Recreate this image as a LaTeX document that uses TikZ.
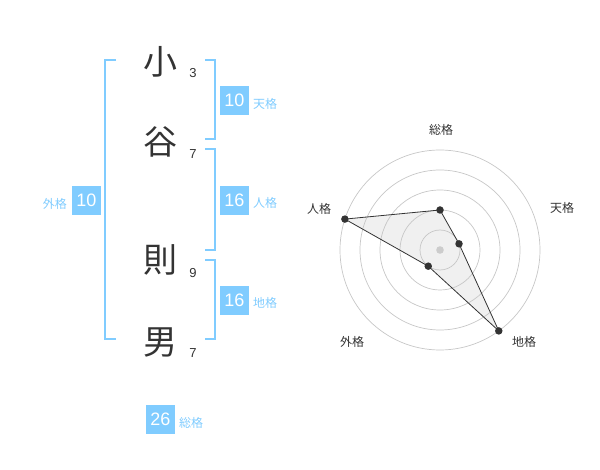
\documentclass[tikz,border=0pt]{standalone}
\usepackage{fontspec}
\setmainfont{Liberation Sans}
\newfontfamily\jpfont{Noto Sans CJK JP}
\definecolor{kakublue}{RGB}{128,204,255}
\definecolor{inkgray}{RGB}{51,51,51}

\begin{document}
\begin{tikzpicture}[x=1pt,y=-1pt,
    kanji/.style={font=\jpfont\fontsize{34}{34}\selectfont, text=inkgray, inner sep=0pt},
    strokes/.style={font=\fontsize{13}{13}\selectfont, text=inkgray, inner sep=0pt},
    kakubox/.style={fill=kakublue, text=white, minimum size=29pt, inner sep=0pt, font=\fontsize{18}{18}\selectfont},
    kakuname/.style={font=\jpfont\fontsize{12}{12}\selectfont, text=kakublue, inner sep=0pt},
    bracket/.style={draw=kakublue, line width=2pt},
    ring/.style={draw=black!22, line width=0.7pt},
    axisname/.style={font=\jpfont\fontsize{12}{12}\selectfont, text=inkgray, inner sep=0pt},
    dot/.style={circle, fill=inkgray, inner sep=0pt, minimum size=7.5pt}]
  \useasboundingbox (0,0) rectangle (600,470);
  % name, one character per row
  \node[kanji] (sho) at (160,62) {小};
  \node[kanji] (tani) at (160,142) {谷};
  \node[kanji] (nori) at (160,260) {則};
  \node[kanji] (otoko) at (160,342) {男};
  \node[strokes] (s1) at (193,73) {3};
  \node[strokes] (s2) at (193,154) {7};
  \node[strokes] (s3) at (193,273) {9};
  \node[strokes] (s4) at (193,353) {7};
  % brackets
  \draw[bracket] (116,60) -- (105,60) -- (105,339) -- (116,339);
  \draw[bracket] (205,60) -- (215,60) -- (215,139) -- (205,139);
  \draw[bracket] (205,149) -- (215,149) -- (215,250) -- (205,250);
  \draw[bracket] (205,260) -- (215,260) -- (215,339) -- (205,339);
  % kaku values
  \node[kakubox] (ten) at (234.5,100.5) {10};
  \node[kakuname, anchor=west] (tenname) at (253,104) {天格};
  \node[kakubox] (jin) at (234.5,200.5) {16};
  \node[kakuname, anchor=west] (jinname) at (253,203) {人格};
  \node[kakubox] (chi) at (234.5,300.5) {16};
  \node[kakuname, anchor=west] (chiname) at (253,303) {地格};
  \node[kakubox] (gai) at (86.5,200.5) {10};
  \node[kakuname, anchor=east] (gainame) at (67,204) {外格};
  \node[kakubox] (sou) at (160.5,419) {26};
  \node[kakuname, anchor=west] (souname) at (179,423) {総格};
  % radar chart
  \begin{scope}[shift={(440,250)}, yscale=-1]
    \coordinate (psou) at (90:40);
    \coordinate (pten) at (18:20);
    \coordinate (pchi) at (-54:100);
    \coordinate (pgai) at (234:20);
    \coordinate (pjin) at (162:100);
    \fill[black!6] (psou) -- (pten) -- (pchi) -- (pgai) -- (pjin) -- cycle;
    \foreach \r in {20,40,...,100}
      \draw[ring] (0,0) circle (\r);
    \fill[black!20] (0,0) circle (3.8);
    \draw[line width=0.8pt, draw=inkgray] (psou) -- (pten) -- (pchi) -- (pgai) -- (pjin) -- cycle;
    \foreach \p in {psou,pten,pchi,pgai,pjin}
      \node[dot] at (\p) {};
    \node[axisname] (asou) at (1,120) {総格};
    \node[axisname] (aten) at (122,42) {天格};
    \node[axisname] (achi) at (84,-92) {地格};
    \node[axisname] (agai) at (-88,-92) {外格};
    \node[axisname] (ajin) at (-121,41) {人格};
  \end{scope}
\end{tikzpicture}
\end{document}
